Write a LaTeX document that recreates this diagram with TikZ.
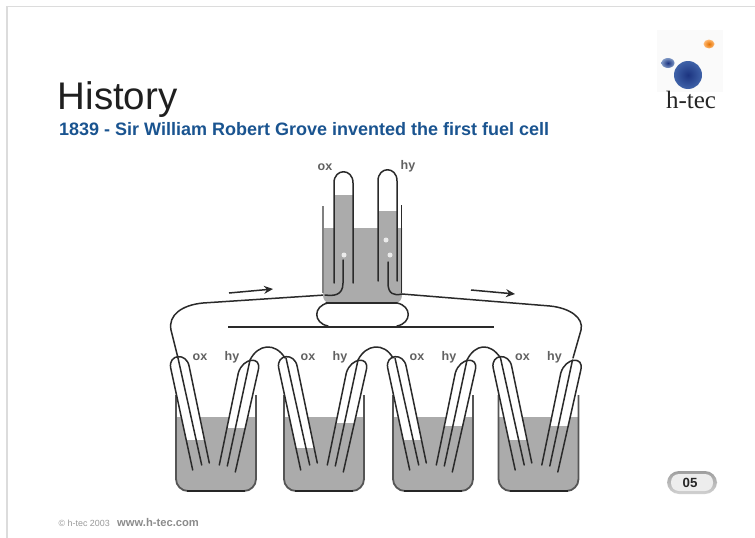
\documentclass[tikz,border=0pt]{standalone}
\usepackage{fontspec}
\setmainfont{Liberation Sans}
\newfontfamily\serifx{Liberation Serif}
\usetikzlibrary{arrows.meta}
\definecolor{liq}{HTML}{ABABAB}
\definecolor{ink}{HTML}{2A2A2A}
\definecolor{wallc}{HTML}{555555}
\definecolor{titleblue}{HTML}{1A5490}
\definecolor{framec}{HTML}{DCDCDC}
\definecolor{ballin}{HTML}{1C3480}
\definecolor{ballout}{HTML}{3F62A8}
\definecolor{blobout}{HTML}{7E97C4}
\tikzset{
  wire/.style={draw=ink,line width=1.5pt,line cap=round,line join=round},
  wallline/.style={draw=wallc,line width=1.8pt},
  lab/.style={font=\bfseries\fontsize{12.5}{13}\selectfont,text=black!62,inner sep=0pt},
  flowarrow/.style={draw=ink,line width=1.5pt,-{Stealth[length=9pt,width=8pt]}}
}
% beaker: dx, ox level, hy level
\newcommand{\beakercell}[3]{%
  \begin{scope}[xshift=#1pt]
    \fill[liq,rounded corners=12pt] (176,417) -- (176,491) -- (256,491) -- (256,417) -- cycle;
    \fill[liq] (176,417) rectangle (256,440);
    \begin{scope}
      \clip (150,340) rectangle (215,#2);
      \fill[white] (170.7,368) .. controls (170,356) and (189,354) .. (189.3,367) -- (209.3,463) -- (192.7,470) -- cycle;
    \end{scope}
    \begin{scope}
      \clip (210,340) rectangle (270,#3);
      \fill[white] (238.3,373) .. controls (243,356) and (262,356) .. (258.3,370) -- (235.3,472) -- (219.3,465) -- cycle;
    \end{scope}
    \draw[wallline,rounded corners=12pt] (176,395) -- (176,491) -- (256,491) -- (256,395);
    \draw[draw=black!85,line width=2pt] (187,491) -- (245,491);
    \draw[wire] (192.7,470) -- (170.7,368) .. controls (168,354) and (187,352) .. (189.3,367) -- (209.3,463);
    \draw[wire] (178,358) -- (201.7,465);
    \draw[wire] (219.3,465) -- (238.3,373) .. controls (243,357) and (262,356) .. (258.3,370) -- (235.3,472);
    \draw[wire] (250,360) -- (227.3,466);
    \node[lab] at (200,357) {ox};
    \node[lab] at (232,357) {hy};
  \end{scope}}
\begin{document}
\begin{tikzpicture}[x=1pt,y=-1pt]
\useasboundingbox (0,0) rectangle (755,538);
\fill[white] (0,0) rectangle (755,538);
% slide frame
\draw[framec,line width=1.5pt] (7,538) -- (7,6.5) -- (755,6.5);
% titles
\node[anchor=base west,inner sep=0pt,font=\fontsize{38.5}{40}\selectfont,text=black!88] (title) at (57.5,109) {History};
\node[anchor=base west,inner sep=0pt,font=\bfseries\fontsize{18}{20}\selectfont,text=titleblue] (sub) at (59,135) {1839 - Sir William Robert Grove invented the first fuel cell};
% logo
\fill[black!2] (657,30) rectangle (723,92);
\shade[inner color=ballin,outer color=ballout] (688,75) circle (14);
\shade[inner color=ballin,outer color=blobout] (668,63) ellipse (6.5 and 5);
\shade[inner color=orange!90!black,outer color=orange!55] (709,44) ellipse (5.5 and 4.5);
\node[font=\serifx\fontsize{25}{26}\selectfont,text=black!85,inner sep=0pt] (logo) at (691,100) {h-tec};
% lower cells
\beakercell{0}{439}{427}
\beakercell{108}{447}{422}
\beakercell{217}{439}{425}
\beakercell{322.5}{439}{425}
% links between cells
\draw[wire] (250,360) .. controls (258,344) and (275,342) .. (285,358);
\draw[wire] (358,360) .. controls (366,344) and (384,342) .. (393,358);
\draw[wire] (467,360) .. controls (475,344) and (490,342) .. (500.5,358);
% long wires
\draw[wire] (178,358) -- (171,330) .. controls (168,315) and (182,305) .. (203,303) -- (325,295);
\draw[wire] (573,358) -- (581,330) .. controls (584,318) and (570,308) .. (550,306) -- (402,294);
% upper cell
\fill[liq] (323,228) -- (323,295) .. controls (323,300) and (326,303) .. (330,303) -- (395,303) .. controls (399,303) and (402,300) .. (402,295) -- (402,228) -- cycle;
\fill[liq] (334,195) rectangle (353,228);
\fill[liq] (378,211) rectangle (397,228);
\draw[wallline,draw=black!50] (323,206) -- (323,293);
\draw[draw=ink,line width=1.6pt] (401.5,205) -- (401.5,293);
\draw[wire] (334,283) -- (334,183) .. controls (334,168) and (353,168) .. (353,183) -- (353,283);
\draw[wire] (378,281) -- (378,181) .. controls (378,166) and (397,166) .. (397,181) -- (397,281);
% electrodes
\draw[wire] (325,295) .. controls (333,296) and (343,296) .. (343,283) -- (343,260);
\draw[wire] (402,294) .. controls (394,296) and (388,294) .. (388,283) -- (388,262);
\fill[white!92!black] (344,255) circle (2.5);
\fill[white!92!black] (386,240) circle (2.5);
\fill[white!92!black] (390,255) circle (2.5);
% bridge
\draw[wire] (326,303) -- (397,303);
\draw[wire] (328,303) .. controls (313,306) and (313,323) .. (328,326);
\draw[wire] (397,303) .. controls (412,306) and (412,323) .. (397,326);
\draw[draw=ink,line width=2.2pt] (228,327) -- (494,327);
\node[lab] at (325,167) {ox};
\node[lab] at (408,166) {hy};
% arrows
\coordinate (a1) at (229,293); \coordinate (a2) at (273,289);
\coordinate (b1) at (471,290); \coordinate (b2) at (515,294);
\draw[flowarrow] (a1) -- (a2);
\draw[flowarrow] (b1) -- (b2);
% page badge
\shade[top color=black!38,bottom color=black!18,rounded corners=12pt] (667,471) rectangle (717,494);
\fill[white!93!black,rounded corners=8pt] (671,474) rectangle (713,491);
\node[font=\bfseries\fontsize{13.3}{14}\selectfont,text=black!85,inner sep=0pt] (page) at (690,482.5) {05};
% footer
\node[anchor=base west,inner sep=0pt,font=\fontsize{8.9}{10}\selectfont,text=black!40] (f1) at (58.5,526) {© h-tec 2003};
\node[anchor=base west,inner sep=0pt,font=\bfseries\fontsize{11.2}{12}\selectfont,text=black!45] (f2) at (117,526) {www.h-tec.com};
\end{tikzpicture}
\end{document}
